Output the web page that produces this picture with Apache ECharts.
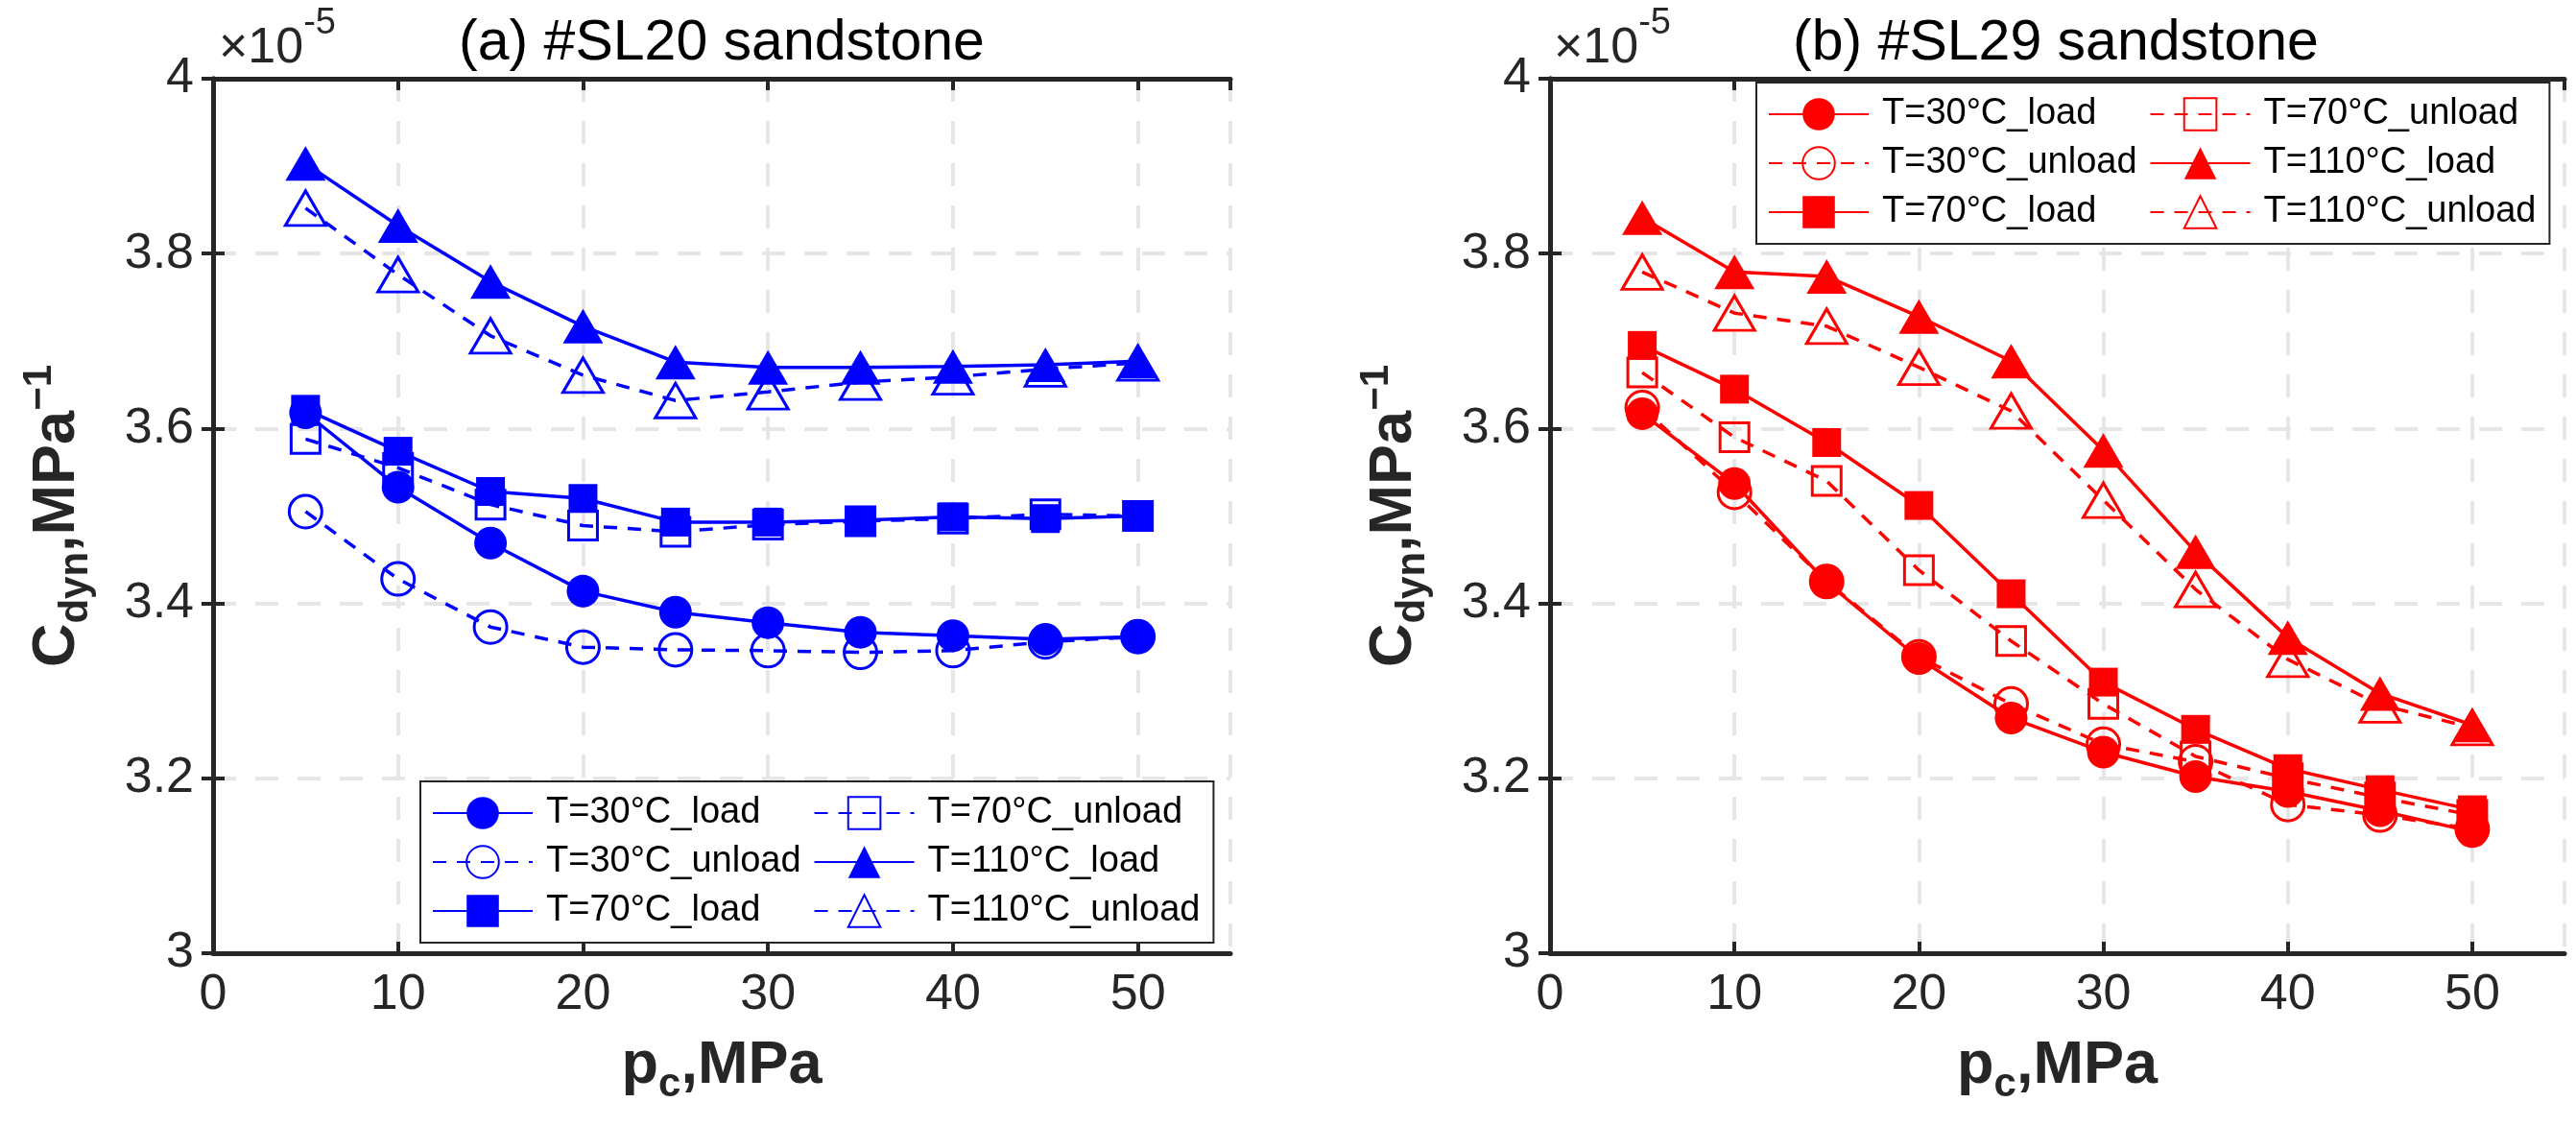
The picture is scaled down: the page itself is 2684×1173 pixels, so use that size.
<!DOCTYPE html>
<html lang="en">
<head>
  <meta charset="UTF-8">
  <title>Cdyn vs pc</title>
  <script src="https://cdn.jsdelivr.net/npm/echarts@6/dist/echarts.min.js"></script>
  <style>
    html, body {
      margin: 0;
      padding: 0;
      background: #fff;
    }

    #main {
      width: 2684px;
      height: 1173px;
    }
  </style>
</head>
<body>
<div id="main"></div>
<script>
  // confining pressure, MPa
  var pc = [5, 10, 15, 20, 25, 30, 35, 40, 45, 50];

  var names = ['T=30°C_load', 'T=30°C_unload', 'T=70°C_load', 'T=70°C_unload', 'T=110°C_load', 'T=110°C_unload'];
  var titles = ['(a) #SL20 sandstone', '(b) #SL29 sandstone'];

  // Cdyn, x1e-5 MPa^-1 : #SL20
  var sl20_30load = [3.618, 3.533, 3.469, 3.414, 3.390, 3.378, 3.367, 3.363, 3.359, 3.362];
  var sl20_30unload = [3.505, 3.428, 3.373, 3.350, 3.347, 3.346, 3.344, 3.346, 3.356, 3.362];
  var sl20_70load = [3.622, 3.574, 3.528, 3.520, 3.493, 3.493, 3.495, 3.499, 3.497, 3.500];
  var sl20_70unload = [3.588, 3.555, 3.513, 3.489, 3.482, 3.490, 3.494, 3.497, 3.502, 3.500];
  var sl20_110load = [3.903, 3.832, 3.768, 3.717, 3.676, 3.670, 3.670, 3.671, 3.673, 3.677];
  var sl20_110unload = [3.852, 3.776, 3.706, 3.661, 3.632, 3.642, 3.653, 3.659, 3.668, 3.675];

  // #SL29
  var sl29_30load = [3.617, 3.537, 3.424, 3.337, 3.269, 3.230, 3.202, 3.185, 3.163, 3.139];
  var sl29_30unload = [3.624, 3.527, 3.425, 3.339, 3.285, 3.239, 3.219, 3.170, 3.158, 3.142];
  var sl29_70load = [3.695, 3.645, 3.584, 3.512, 3.411, 3.310, 3.256, 3.211, 3.187, 3.164];
  var sl29_70unload = [3.664, 3.590, 3.540, 3.438, 3.357, 3.285, 3.225, 3.200, 3.178, 3.158];
  var sl29_110load = [3.841, 3.779, 3.774, 3.728, 3.677, 3.575, 3.459, 3.361, 3.297, 3.261];
  var sl29_110unload = [3.779, 3.732, 3.717, 3.670, 3.620, 3.518, 3.416, 3.336, 3.284, 3.258];

  var xMin = 0, xMax = 55, xStep = 10;
  var yMin = 3, yMax = 4, yStep = 0.2;

  var font = 'Liberation Sans, Arial, Helvetica, sans-serif';
  var axisColor = '#262626';
  var tags = ['a:', 'b:'];

  var myChart = echarts.init(document.getElementById('main'));

  function mkSeries(gi, k, vals, color) {
    var sym = ['circle', 'circle', 'rect', 'rect', 'triangle', 'triangle'][k];
    var size = [34, 34, 30, 30, [42, 36], [42, 36]][k];
    var filled = k % 2 === 0;
    return {
      name: tags[gi] + names[k],
      type: 'line',
      xAxisIndex: gi * 2,
      yAxisIndex: gi * 2,
      data: pc.map(function (x, i) {
        return [x, vals[i]];
      }),
      symbol: sym,
      symbolSize: size,
      showAllSymbol: true,
      lineStyle: {color: color, width: 3.5, type: filled ? 'solid' : [14, 11]},
      itemStyle: {
        color: filled ? color : 'rgba(255,255,255,0)',
        borderColor: color,
        borderWidth: filled ? 0 : 3
      },
      emphasis: {disabled: true},
      z: filled ? 3 : 2
    };
  }

  var boldRich = {
    m: {fontSize: 63, fontWeight: 'bold', lineHeight: 80, fontFamily: font, color: axisColor},
    s: {fontSize: 42, fontWeight: 'bold', lineHeight: 42, verticalAlign: 'bottom', fontFamily: font, color: axisColor},
    p: {fontSize: 42, fontWeight: 'bold', lineHeight: 42, verticalAlign: 'top', fontFamily: font, color: axisColor}
  };

  function mkAxes(gi) {
    var xs = [{
      type: 'value', gridIndex: gi, min: xMin, max: xMax, interval: xStep,
      name: '{m|p}{s|c}{m|,MPa}', nameLocation: 'middle', nameGap: 78,
      nameTextStyle: {fontFamily: font, color: axisColor, rich: boldRich},
      axisLine: {lineStyle: {color: axisColor, width: 5}},
      axisTick: {inside: true, length: 12, lineStyle: {width: 4}},
      axisLabel: {fontSize: 52, color: axisColor, fontFamily: font, margin: 18, showMaxLabel: false},
      splitLine: {show: true, lineStyle: {color: '#e6e6e6', width: 4, type: [24, 20]}}
    }, {
      type: 'value', gridIndex: gi, position: 'top', min: xMin, max: xMax, interval: xStep,
      axisLine: {lineStyle: {color: axisColor, width: 5}},
      axisTick: {inside: true, length: 12, lineStyle: {width: 4}},
      axisLabel: {show: false},
      splitLine: {show: false}
    }];
    var ys = [{
      type: 'value', gridIndex: gi, min: yMin, max: yMax, interval: yStep,
      name: '{m|C}{s|dyn}{m|,MPa}{p|−1}', nameLocation: 'middle', nameGap: 122, nameRotate: 90,
      nameTextStyle: {fontFamily: font, color: axisColor, rich: boldRich},
      axisLine: {show: true, lineStyle: {color: axisColor, width: 5}},
      axisTick: {show: true, inside: true, length: 12, lineStyle: {width: 4}},
      axisLabel: {fontSize: 52, color: axisColor, fontFamily: font, margin: 20},
      splitLine: {show: true, lineStyle: {color: '#e6e6e6', width: 4, type: [24, 20]}}
    }, {
      type: 'value', gridIndex: gi, position: 'right', min: yMin, max: yMax, interval: yStep,
      axisLine: {show: true, lineStyle: {color: axisColor, width: 5}},
      axisTick: {show: true, inside: true, length: 12, lineStyle: {width: 4}},
      axisLabel: {show: false},
      splitLine: {show: false}
    }];
    return {x: xs, y: ys};
  }

  function mkLegend(gi, left, top) {
    return {
      orient: 'vertical',
      left: left,
      top: top,
      height: 145,
      data: names.map(function (n) {
        return tags[gi] + n;
      }),
      formatter: function (n) {
        return '{t|' + n.slice(2) + '}';
      },
      itemWidth: 104,
      itemHeight: 42,
      itemGap: 13,
      padding: [14, 14, 14, 12],
      borderColor: axisColor,
      borderWidth: 2,
      backgroundColor: '#fff',
      selectedMode: false,
      textStyle: {
        fontSize: 38, color: '#000', fontFamily: font,
        rich: {t: {fontSize: 38, color: '#000', fontFamily: font, width: 275, padding: [0, 0, 0, 9]}}
      }
    };
  }

  function mkTitles(gi, center, expLeft) {
    return [{
      text: titles[gi], left: center, top: 16, textAlign: 'center', padding: 0,
      textStyle: {fontSize: 59, fontWeight: 'normal', color: '#000', fontFamily: font}
    }, {
      text: '{a|×10}{b|-5}', left: expLeft, top: 6, padding: 0,
      textStyle: {
        fontWeight: 'normal',
        rich: {
          a: {fontSize: 52, fontWeight: 'normal', lineHeight: 90, color: axisColor, fontFamily: font},
          b: {fontSize: 38, fontWeight: 'normal', lineHeight: 38, verticalAlign: 'top', color: axisColor, fontFamily: font}
        }
      }
    }];
  }

  var ax0 = mkAxes(0), ax1 = mkAxes(1);
  var blue = '#0000ff', red = '#ff0000';
  var left20 = [sl20_30load, sl20_30unload, sl20_70load, sl20_70unload, sl20_110load, sl20_110unload];
  var right29 = [sl29_30load, sl29_30unload, sl29_70load, sl29_70unload, sl29_110load, sl29_110unload];

  var option = {
    animation: false,
    backgroundColor: '#fff',
    title: mkTitles(0, 752, 228).concat(mkTitles(1, 2142, 1619)),
    grid: [
      {left: 222, right: 1402, top: 82, bottom: 180},
      {left: 1615, right: 12, top: 82, bottom: 180}
    ],
    xAxis: ax0.x.concat(ax1.x),
    yAxis: ax0.y.concat(ax1.y),
    legend: [mkLegend(0, 438, 814), mkLegend(1, 1830, 86)],
    series: left20.map(function (v, k) {
      return mkSeries(0, k, v, blue);
    }).concat(right29.map(function (v, k) {
      return mkSeries(1, k, v, red);
    }))
  };

  myChart.setOption(option);
</script>
</body>
</html>
